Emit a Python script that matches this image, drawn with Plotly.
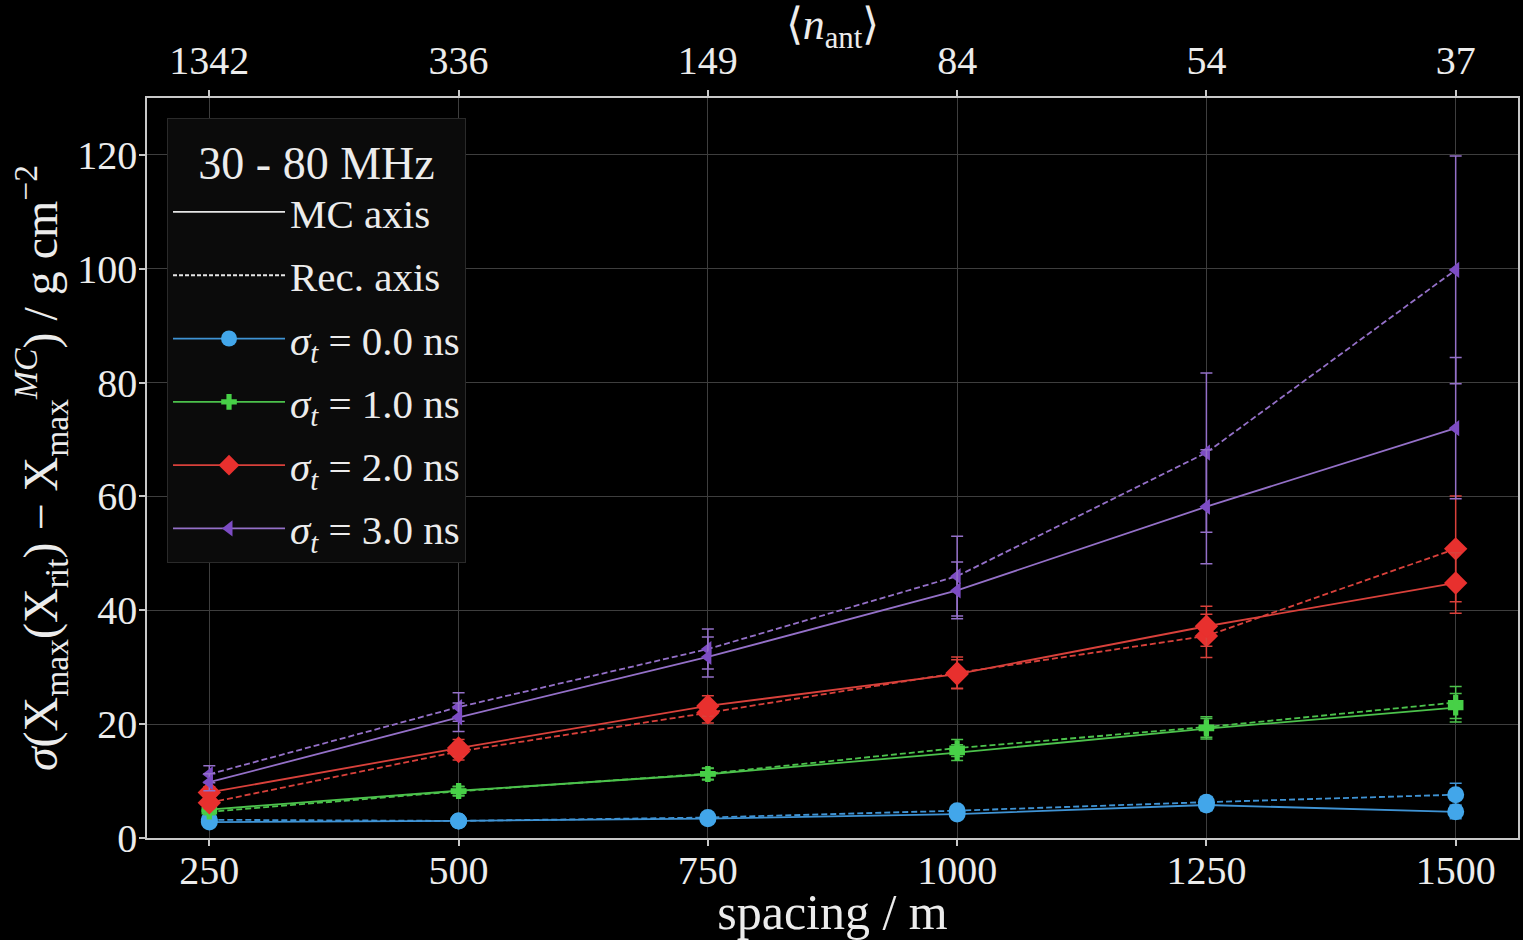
import plotly.graph_objects as go

spacing = [250, 500, 750, 1000, 1250, 1500]
n_ant_labels = ["1342", "336", "149", "84", "54", "37"]

mc_0 = [2.8, 3.0, 3.4, 4.2, 5.8, 4.6]
mc_0_err = [0.4, 0.4, 0.5, 0.7, 1.0, 1.2]
rec_0 = [3.2, 3.0, 3.6, 4.8, 6.3, 7.6]
rec_0_err = [0.4, 0.4, 0.5, 0.8, 1.0, 2.0]

mc_1 = [5.0, 8.3, 11.2, 15.0, 19.2, 22.9]
mc_1_err = [0.5, 0.8, 1.0, 1.4, 1.8, 2.5]
rec_1 = [4.6, 8.2, 11.3, 15.8, 19.5, 23.8]
rec_1_err = [0.5, 0.8, 1.0, 1.5, 1.8, 2.8]

mc_2 = [8.0, 15.8, 23.2, 28.8, 37.2, 44.8]
mc_2_err = [1.0, 1.5, 1.8, 2.5, 3.5, 5.3]
rec_2 = [6.2, 15.2, 22.0, 29.0, 35.5, 50.8]
rec_2_err = [1.0, 1.5, 1.8, 2.8, 3.8, 9.3]

mc_3 = [9.8, 21.2, 31.8, 43.5, 58.2, 72.0]
mc_3_err = [1.5, 2.5, 3.5, 5.0, 10.0, 12.4]
rec_3 = [11.2, 23.0, 33.2, 46.0, 67.7, 99.8]
rec_3_err = [1.5, 2.5, 3.5, 7.0, 14.0, 20.0]

sigma_labels = ["0.0", "1.0", "2.0", "3.0"]

FONT = "Liberation Serif"
series = [
    (mc_0, mc_0_err, rec_0, rec_0_err, "#42a6ea", "#3f93d4", "circle", 17),
    (mc_1, mc_1_err, rec_1, rec_1_err, "#47d047", "#4cc24c", "cross", 13),
    (mc_2, mc_2_err, rec_2, rec_2_err, "#e8302e", "#d9413b", "diamond", 18),
    (mc_3, mc_3_err, rec_3, rec_3_err, "#7d4cc4", "#9470c8", "triangle-left", 14),
]

fig = go.Figure()

for mc, mce, rec, rece, mcol, lcol, sym, size in series:
    for vals, errs, dash in [(rec, rece, "6px,3px"), (mc, mce, "solid")]:
        fig.add_trace(go.Scatter(
            x=spacing, y=vals, mode="lines+markers",
            line=dict(color=lcol, width=1.8, dash=dash),
            marker=dict(symbol=sym, size=size, color=mcol, line=dict(width=0)),
            error_y=dict(type="data", array=errs, visible=True, color=lcol, thickness=1.5, width=6),
            showlegend=False, hoverinfo="x+y",
        ))

# legend entries
fig.add_trace(go.Scatter(x=[None], y=[None], mode="lines", name="MC axis",
                         line=dict(color="#e6e6e6", width=1.8), legendgroup="a"))
fig.add_trace(go.Scatter(x=[None], y=[None], mode="lines", name="Rec. axis",
                         line=dict(color="#e6e6e6", width=1.8, dash="4px,2px"), legendgroup="b"))
for i, (mc, mce, rec, rece, mcol, lcol, sym, size) in enumerate(series):
    fig.add_trace(go.Scatter(
        x=[None], y=[None], mode="lines+markers",
        name="<i>σ<sub>t</sub></i> = " + sigma_labels[i] + " ns",
        line=dict(color=lcol, width=1.8),
        marker=dict(symbol=sym, size=size, color=mcol, line=dict(width=0)),
        legendgroup="s" + str(i),
    ))

# invisible trace on top axis
fig.add_trace(go.Scatter(x=spacing, y=[None] * len(spacing), xaxis="x2", mode="markers",
                         showlegend=False, hoverinfo="skip"))

axis_common = dict(
    showline=True, linecolor="#c8c8c8", linewidth=1.5,
    ticks="outside", ticklen=6, tickwidth=1.5, tickcolor="#c8c8c8",
    tickfont=dict(family=FONT, size=40, color="#ececec"),
    zeroline=False,
)

fig.update_layout(
    width=1523, height=940,
    paper_bgcolor="black", plot_bgcolor="black",
    margin=dict(l=147, r=3, t=98, b=102),
    font=dict(family=FONT, color="#ececec"),
    xaxis=dict(
        range=[187.5, 1562.5], tickvals=spacing, ticktext=[str(s) for s in spacing],
        showgrid=True, gridcolor="#3e3e3e", gridwidth=1, mirror=False,
        ticklabelstandoff=-10,
        title=dict(text="spacing / m", font=dict(family=FONT, size=50, color="#ececec"), standoff=4),
        **axis_common,
    ),
    xaxis2=dict(
        overlaying="x", side="top", range=[187.5, 1562.5], tickvals=spacing, ticktext=n_ant_labels,
        showgrid=False,
        title=dict(text="⟨<i>n</i><sub>ant</sub>⟩", font=dict(family=FONT, size=44, color="#ececec"), standoff=0),
        **axis_common,
    ),
    yaxis=dict(
        range=[0, 130], tickvals=[0, 20, 40, 60, 80, 100, 120], mirror=True,
        showgrid=True, gridcolor="#3e3e3e", gridwidth=1,
        ticklabelstandoff=-6,
        title=dict(text="<i>σ</i>(X<sub>max</sub>(X<sub>rit</sub>) − X<sub>max</sub><sup><i>MC</i></sup>) / g cm<sup>−2</sup>",
                   font=dict(family=FONT, size=48, color="#ececec"), standoff=4),
        **axis_common,
    ),
    legend=dict(
        x=0.0146, y=0.973, xanchor="left", yanchor="top",
        bgcolor="#0b0b0b", bordercolor="#2a2a2a", borderwidth=1,
        font=dict(family=FONT, size=41, color="#ececec"),
        title=dict(text="30 - 80 MHz", side="top center", font=dict(family=FONT, size=46, color="#ececec")),
        tracegroupgap=7, itemwidth=112,
    ),
)

fig.write_html("out.html")
